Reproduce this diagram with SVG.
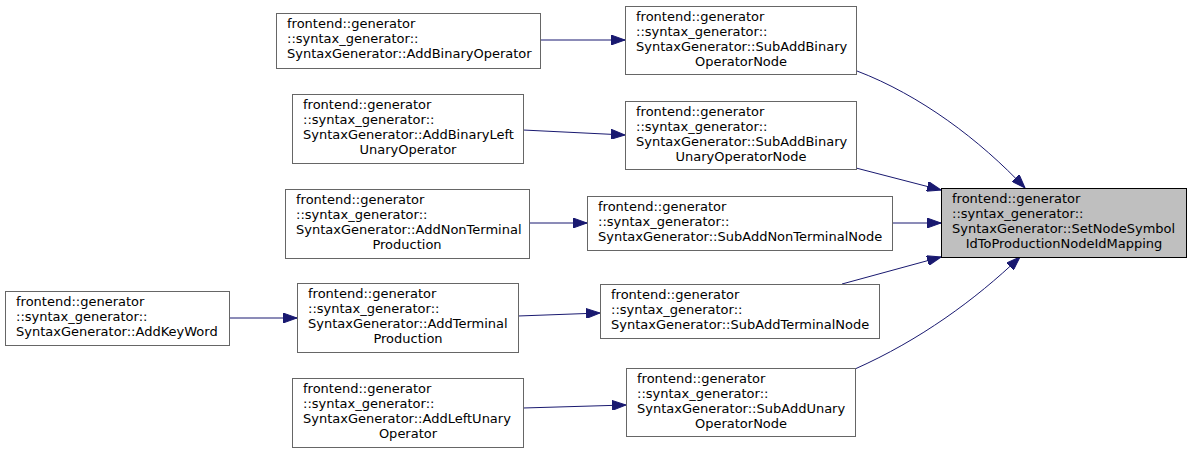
<svg xmlns="http://www.w3.org/2000/svg" width="1191" height="453" viewBox="0 0 1191 453">
<style>
.n rect{fill:#ffffff;stroke:#666666;stroke-width:1}
.main rect{fill:#bfbfbf;stroke:#000000;stroke-width:1}
text{font-family:"DejaVu Sans","Liberation Sans",sans-serif;font-size:13px;fill:#000000}
.c{text-anchor:middle}
.e path{fill:none;stroke:#191970;stroke-width:1;marker-end:url(#ah)}
</style>
<defs>
<marker id="ah" viewBox="0 0 14 10" refX="14" refY="5" markerWidth="14" markerHeight="10" markerUnits="userSpaceOnUse" orient="auto">
<path d="M0,0 L14,5 L0,10 z" fill="#191970" stroke="#191970" stroke-width="1"/>
</marker>
</defs>
<rect width="1191" height="453" fill="#ffffff"/>
<g id="connectors" class="e">
<path d="M540,40 L625,40"/>
<path d="M523,130 L625,135"/>
<path d="M529,223 L587,223"/>
<path d="M229,318 L297,318"/>
<path d="M518,316 L600,313"/>
<path d="M523,408 L626,405"/>
<path d="M857,71 C920,95 980,140 1025,188"/>
<path d="M856,168 L941,190"/>
<path d="M892,223 L941,223"/>
<path d="M842,284 L941,257"/>
<path d="M855,369 C920,340 975,300 1020,257"/>
</g>
<g id="main" class="main">
<rect x="941.5" y="188.5" width="245" height="69"/>
<text x="952" y="203">frontend::generator</text>
<text x="952" y="218">::syntax_generator::</text>
<text x="952" y="233">SyntaxGenerator::SetNodeSymbol</text>
<text x="1064" y="248" class="c">IdToProductionNodeIdMapping</text>
</g>
<g id="subAddBinaryOperatorNode" class="n">
<rect x="625.5" y="6.5" width="231" height="68"/>
<text x="636" y="21">frontend::generator</text>
<text x="636" y="36">::syntax_generator::</text>
<text x="636" y="51">SyntaxGenerator::SubAddBinary</text>
<text x="741" y="66" class="c">OperatorNode</text>
</g>
<g id="addBinaryOperator" class="n">
<rect x="276.5" y="13.5" width="264" height="55"/>
<text x="287" y="28">frontend::generator</text>
<text x="287" y="43">::syntax_generator::</text>
<text x="287" y="58">SyntaxGenerator::AddBinaryOperator</text>
</g>
<g id="subAddBinaryUnaryOperatorNode" class="n">
<rect x="625.5" y="101.5" width="231" height="68"/>
<text x="636" y="116">frontend::generator</text>
<text x="636" y="131">::syntax_generator::</text>
<text x="636" y="146">SyntaxGenerator::SubAddBinary</text>
<text x="741" y="161" class="c">UnaryOperatorNode</text>
</g>
<g id="addBinaryLeftUnaryOperator" class="n">
<rect x="292.5" y="94.5" width="231" height="69"/>
<text x="303" y="109">frontend::generator</text>
<text x="303" y="124">::syntax_generator::</text>
<text x="303" y="139">SyntaxGenerator::AddBinaryLeft</text>
<text x="408" y="154" class="c">UnaryOperator</text>
</g>
<g id="subAddNonTerminalNode" class="n">
<rect x="587.5" y="196.5" width="305" height="54"/>
<text x="598" y="211">frontend::generator</text>
<text x="598" y="226">::syntax_generator::</text>
<text x="598" y="241">SyntaxGenerator::SubAddNonTerminalNode</text>
</g>
<g id="addNonTerminalProduction" class="n">
<rect x="285.5" y="189.5" width="244" height="69"/>
<text x="296" y="204">frontend::generator</text>
<text x="296" y="219">::syntax_generator::</text>
<text x="296" y="234">SyntaxGenerator::AddNonTerminal</text>
<text x="407" y="249" class="c">Production</text>
</g>
<g id="subAddTerminalNode" class="n">
<rect x="600.5" y="284.5" width="279" height="54"/>
<text x="611" y="299">frontend::generator</text>
<text x="611" y="314">::syntax_generator::</text>
<text x="611" y="329">SyntaxGenerator::SubAddTerminalNode</text>
</g>
<g id="addTerminalProduction" class="n">
<rect x="297.5" y="283.5" width="221" height="69"/>
<text x="308" y="298">frontend::generator</text>
<text x="308" y="313">::syntax_generator::</text>
<text x="308" y="328">SyntaxGenerator::AddTerminal</text>
<text x="408" y="343" class="c">Production</text>
</g>
<g id="addKeyWord" class="n">
<rect x="5.5" y="291.5" width="224" height="54"/>
<text x="16" y="306">frontend::generator</text>
<text x="16" y="321">::syntax_generator::</text>
<text x="16" y="336">SyntaxGenerator::AddKeyWord</text>
</g>
<g id="subAddUnaryOperatorNode" class="n">
<rect x="626.5" y="368.5" width="229" height="68"/>
<text x="637" y="383">frontend::generator</text>
<text x="637" y="398">::syntax_generator::</text>
<text x="637" y="413">SyntaxGenerator::SubAddUnary</text>
<text x="741" y="428" class="c">OperatorNode</text>
</g>
<g id="addLeftUnaryOperator" class="n">
<rect x="292.5" y="378.5" width="231" height="69"/>
<text x="303" y="393">frontend::generator</text>
<text x="303" y="408">::syntax_generator::</text>
<text x="303" y="423">SyntaxGenerator::AddLeftUnary</text>
<text x="408" y="438" class="c">Operator</text>
</g>
</svg>
